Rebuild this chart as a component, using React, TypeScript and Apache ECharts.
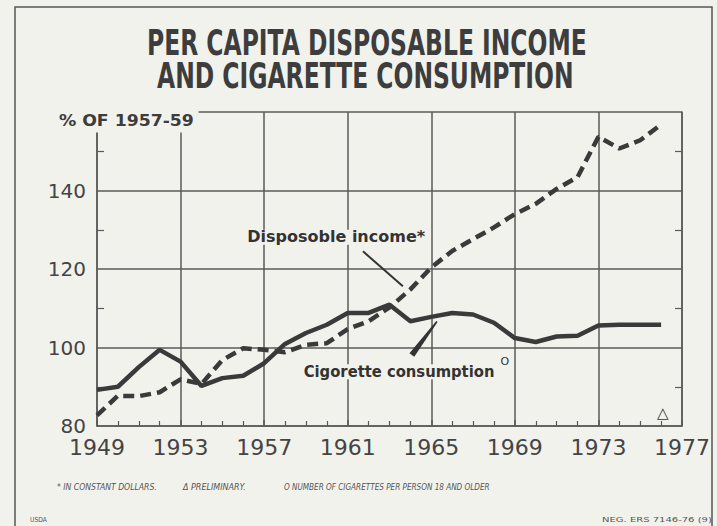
import React, { useEffect, useRef } from "react";
import * as echarts from "echarts";

const years = [1949, 1950, 1951, 1952, 1953, 1954, 1955, 1956, 1957, 1958, 1959, 1960, 1961, 1962, 1963, 1964, 1965, 1966, 1967, 1968, 1969, 1970, 1971, 1972, 1973, 1974, 1975, 1976];
const cigaretteConsumption = [89.2, 90.0, 95.0, 99.4, 96.4, 90.2, 92.2, 92.8, 96.0, 100.9, 103.7, 105.8, 108.8, 108.8, 110.9, 106.7, 107.8, 108.8, 108.4, 106.3, 102.4, 101.4, 102.8, 103.0, 105.6, 105.8, 105.8, 105.8];
const disposableIncome = [82.7, 87.7, 87.6, 88.6, 91.9, 90.7, 96.8, 99.8, 99.4, 98.8, 100.7, 101.1, 104.7, 106.7, 110.2, 114.8, 120.4, 124.6, 127.6, 130.6, 134.0, 136.6, 140.4, 143.4, 153.7, 150.7, 152.8, 156.8];
const titleLines = ["PER CAPITA DISPOSABLE INCOME", "AND CIGARETTE CONSUMPTION"];
const yAxisTitle = "% OF 1957-59";
const incomeLabel = "Disposoble income*";
const cigaretteLabel = "Cigorette consumption";
const footnotes = ["* IN CONSTANT DOLLARS.", "\u0394 PRELIMINARY.", "O NUMBER OF CIGARETTES PER PERSON 18 AND OLDER"];
const creditLeft = "USDA";
const creditRight = "NEG. ERS 7146-76 (9)";

const BG = "#f2f2ec";
const INK = "#3a3a3a";
const GRID = "#5a5a5a";

function measure(text: string, font: string): number {
  const c = document.createElement("canvas");
  const ctx = c.getContext("2d")!;
  ctx.font = font;
  return ctx.measureText(text).width;
}

function fitText(text: string, left: number, right: number, cy: number, size: number, weight: string, family: string, color: string, extra: any = {}) {
  const font = `${weight} ${size}px ${family}`;
  const w = measure(text, font);
  const sx = (right - left) / w;
  return {
    type: "text",
    x: left,
    y: cy,
    scaleX: sx,
    z: 100,
    style: {
      text,
      fill: color,
      font,
      textAlign: "left",
      textVerticalAlign: "middle",
      ...extra,
    },
  };
}

export default function App() {
  const ref = useRef<HTMLDivElement>(null);
  useEffect(() => {
    document.body.style.margin = "0";
    document.body.style.background = BG;
    const chart = echarts.init(ref.current!, undefined, { renderer: "svg" });
    const axisLineStyle = { color: GRID, width: 1.5 };
    const option: any = {
      animation: false,
      backgroundColor: BG,
      grid: { left: 97, right: 35, top: 112, bottom: 100 },
      xAxis: {
        type: "value",
        min: 1949,
        max: 1977,
        interval: 4,
        axisLine: { show: true, lineStyle: axisLineStyle },
        axisTick: { show: true, inside: true, length: 6, lineStyle: axisLineStyle },
        minorTick: { show: true, splitNumber: 4, length: 5, lineStyle: { color: GRID, width: 1.2 } },
        splitLine: { show: true, lineStyle: axisLineStyle },
        axisLabel: { fontSize: 22, color: "#444", margin: 10, fontFamily: "DejaVu Sans", formatter: (v: number) => String(v) },
      },
      yAxis: [
        {
          type: "value",
          min: 80,
          max: 160,
          interval: 20,
          axisLine: { show: true, lineStyle: axisLineStyle },
          axisTick: { show: false, inside: true },
          minorTick: { show: true, splitNumber: 2, length: 7, lineStyle: { color: GRID, width: 1.2 } },
          splitLine: { show: true, lineStyle: axisLineStyle },
          axisLabel: { fontSize: 20, color: "#444", margin: 11, fontFamily: "DejaVu Sans", formatter: (v: number) => (v >= 160 ? "" : String(v)) },
        },
        {
          type: "value",
          position: "right",
          min: 80,
          max: 160,
          interval: 20,
          axisLine: { show: true, lineStyle: axisLineStyle },
          axisTick: { show: false, inside: true },
          minorTick: { show: true, splitNumber: 2, length: 7, lineStyle: { color: GRID, width: 1.2 } },
          splitLine: { show: false },
          axisLabel: { show: false },
        },
      ],
      series: [
        {
          type: "line",
          name: "Cigarette consumption",
          data: years.map((y, i) => [y, cigaretteConsumption[i]]),
          showSymbol: false,
          symbol: "none",
          lineStyle: { color: INK, width: 4.5 },
          z: 5,
        },
        {
          type: "line",
          name: "Disposable income",
          data: years.map((y, i) => [y, disposableIncome[i]]),
          showSymbol: false,
          symbol: "none",
          lineStyle: { color: INK, width: 4.5, type: [11, 6] },
          z: 4,
        },
      ],
    };
    chart.setOption(option);

    const px = (x: number, y: number) => chart.convertToPixel({ xAxisIndex: 0, yAxisIndex: 0 }, [x, y]) as number[];

    const ldA = px(1961.73, 124.5);
    const ldB = px(1963.64, 115.6);
    const wTop = px(1965.27, 106.6);
    const wBot = px(1964.07, 98.1);
    const dx = wTop[0] - wBot[0];
    const dy = wTop[1] - wBot[1];
    const len = Math.hypot(dx, dy);
    const nx = -dy / len;
    const ny = dx / len;
    const wedge = [
      [wBot[0] + nx * 3, wBot[1] + ny * 3],
      [wTop[0] + nx * 0.8, wTop[1] + ny * 0.8],
      [wTop[0] - nx * 0.8, wTop[1] - ny * 0.8],
      [wBot[0] - nx * 3, wBot[1] - ny * 3],
    ];
    const incPos = px(1960.35, 128.1);
    const cigPos = px(1958.8, 93.8);
    const supPos = px(1968.52, 96.4);
    const triPos = px(1976.08, 83.3);

    const graphic: any[] = [
      { type: "rect", shape: { x: 15, y: 7, width: 697, height: 540 }, style: { fill: "none", stroke: "#555", lineWidth: 1.5 }, z: 1 },
      fitText(titleLines[0], 147, 587, 43, 36, "bold", "DejaVu Sans", "#3d3d3d"),
      fitText(titleLines[1], 157, 574, 76, 36, "bold", "DejaVu Sans", "#3d3d3d"),
      fitText(yAxisTitle, 52, 187, 121, 15, "bold", "DejaVu Sans", "#3d3d3d", { backgroundColor: BG, padding: [4, 4, 4, 6] }),
      fitText(incomeLabel, incPos[0] - 89, incPos[0] + 89, incPos[1], 15, "600", "DejaVu Sans", "#333", { backgroundColor: BG, padding: [0, 2] }),
      { type: "line", shape: { x1: ldA[0], y1: ldA[1], x2: ldB[0], y2: ldB[1] }, style: { stroke: "#333", lineWidth: 2 }, z: 100 },
      fitText(cigaretteLabel, cigPos[0], cigPos[0] + 191, cigPos[1], 15, "600", "DejaVu Sans", "#333", { backgroundColor: BG, padding: [0, 2] }),
      { type: "text", x: supPos[0], y: supPos[1], z: 100, style: { text: "O", font: "11px DejaVu Sans", fill: "#333", textAlign: "center", textVerticalAlign: "middle" } },
      { type: "polygon", shape: { points: wedge }, style: { fill: "#333" }, z: 100 },
      { type: "text", x: triPos[0], y: triPos[1], z: 100, style: { text: "\u25B3", font: "bold 15px DejaVu Sans", fill: "#333", textAlign: "center", textVerticalAlign: "middle" } },
      fitText(footnotes[0], 57, 157, 487, 9, "italic", "DejaVu Sans", "#555"),
      fitText(footnotes[1], 183, 246, 487, 9, "italic", "DejaVu Sans", "#555"),
      fitText(footnotes[2], 284, 490, 487, 9, "italic", "DejaVu Sans", "#555"),
      fitText(creditLeft, 30, 47, 520, 7, "normal", "DejaVu Sans", "#555"),
      fitText(creditRight, 602, 712, 520, 7, "normal", "DejaVu Sans", "#555"),
    ];
    chart.setOption({ graphic });

    return () => chart.dispose();
  }, []);
  return <div ref={ref} style={{ width: 717, height: 526 }} />;
}
